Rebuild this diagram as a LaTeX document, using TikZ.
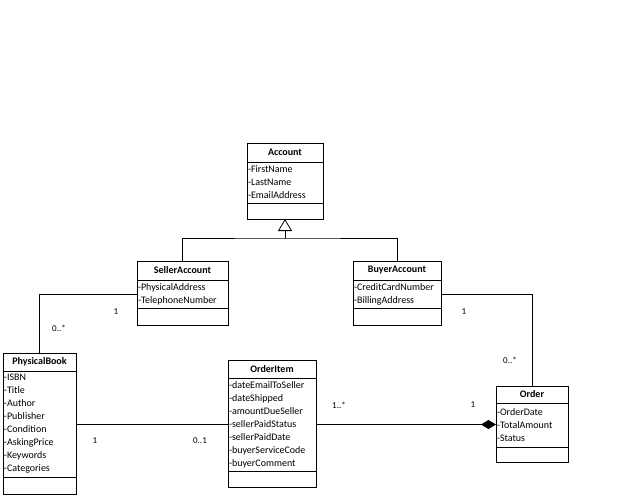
\documentclass[tikz,border=0pt]{standalone}
\usepackage{fontspec}
\setmainfont{Carlito}
\usetikzlibrary{positioning, arrows.meta}

\begin{document}
\begin{tikzpicture}[x=1pt, y=-1pt, line width=0.8pt,
    every node/.style={font=\fontsize{10}{13}\selectfont},
    head/.style={draw, outer sep=0pt, inner xsep=1pt, inner ysep=0pt, align=center, font=\fontsize{10}{13}\selectfont\bfseries},
    attr/.style={draw, outer sep=0pt, inner xsep=1pt, inner ysep=0pt, align=left},
    mult/.style={inner sep=0pt, font=\fontsize{9}{11}\selectfont}]
        \useasboundingbox (0,0) rectangle (619,499);

        % classes
        \node[head, text width=74pt, minimum height=19pt, anchor=north west] (account) at (247,143) {Account};
        \node[attr, text width=74pt, minimum height=41pt, below=0pt of account] (account-a) {-FirstName\\-LastName\\-EmailAddress};
        \node[attr, text width=74pt, minimum height=16pt, below=0pt of account-a] (account-e) {};

        \node[head, text width=89pt, minimum height=19pt, anchor=north west] (seller) at (137,261) {SellerAccount};
        \node[attr, text width=89pt, minimum height=28pt, below=0pt of seller] (seller-a) {-PhysicalAddress\\-TelephoneNumber};
        \node[attr, text width=89pt, minimum height=17pt, below=0pt of seller-a] (seller-e) {};

        \node[head, text width=86pt, minimum height=19pt, anchor=north west] (buyer) at (353,261) {BuyerAccount};
        \node[attr, text width=86pt, minimum height=28pt, below=0pt of buyer] (buyer-a) {-CreditCardNumber\\-BillingAddress};
        \node[attr, text width=86pt, minimum height=17pt, below=0pt of buyer-a] (buyer-e) {};

        \node[head, text width=71pt, minimum height=18pt, anchor=north west] (book) at (3,353) {PhysicalBook};
        \node[attr, text width=71pt, minimum height=106pt, below=0pt of book] (book-a) {-ISBN\\-Title\\-Author\\-Publisher\\-Condition\\-AskingPrice\\-Keywords\\-Categories};
        \node[attr, text width=71pt, minimum height=17pt, below=0pt of book-a] (book-e) {};

        \node[head, text width=86pt, minimum height=18pt, anchor=north west] (item) at (228,360) {OrderItem};
        \node[attr, text width=86pt, minimum height=93pt, below=0pt of item] (item-a) {-dateEmailToSeller\\-dateShipped\\-amountDueSeller\\-sellerPaidStatus\\-sellerPaidDate\\-buyerServiceCode\\-buyerComment};
        \node[attr, text width=86pt, minimum height=16pt, below=0pt of item-a] (item-e) {};

        \node[head, text width=70pt, minimum height=17pt, anchor=north west] (order) at (496,386) {Order};
        \node[attr, text width=70pt, minimum height=44pt, below=0pt of order] (order-a) {-OrderDate\\-TotalAmount\\-Status};
        \node[attr, text width=70pt, minimum height=15pt, below=0pt of order-a] (order-e) {};

        % generalization
        \coordinate (gen) at (285,238);
        \draw (seller.north) |- (gen) -| (buyer.north);
        \draw[-{Triangle[open, length=12pt, width=14pt]}] (gen) -- (account-e.south);

        % associations
        \draw (seller-a.west) -| (book.north);
        \draw (buyer-a.east) -| (order.north);
        \draw (item-a.west) -- (item-a.west -| book-a.east);
        \draw[-{Diamond[length=15pt, width=9pt]}] (item-a.east) -- (item-a.east -| order-a.west);

        % multiplicities
        \node[mult] (m1) at (116,312) {1};
        \node[mult] (m2) at (59,328) {0..*};
        \node[mult] (m3) at (464,312) {1};
        \node[mult] (m4) at (510,360) {0..*};
        \node[mult] (m5) at (95,441) {1};
        \node[mult] (m6) at (200,441) {0..1};
        \node[mult] (m7) at (339,405) {1..*};
        \node[mult] (m8) at (473,405) {1};
    \end{tikzpicture}
\end{document}
